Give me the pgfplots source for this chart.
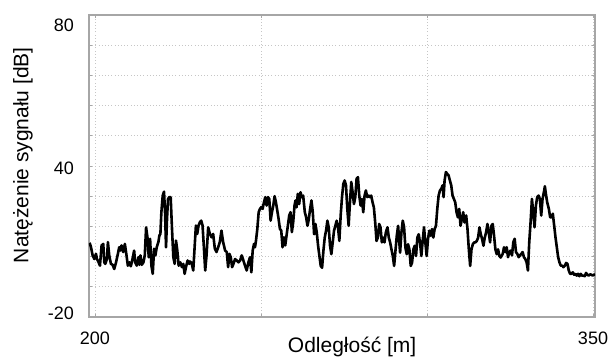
\documentclass[border=0pt]{standalone}
\usepackage{pgfplots}
\pgfplotsset{compat=1.18}
\usepackage{fontspec}
\setmainfont{Liberation Sans}

\begin{document}
\begin{tikzpicture}
\useasboundingbox (-44.5pt,-20.5pt) rectangle (260.5pt,158.5pt);
\begin{axis}[
  at={(0,0)}, anchor=south west,
  scale only axis, width=253pt, height=151pt,
  xmin=198.2, xmax=350.6, ymin=-20, ymax=80,
  axis line style={draw=gray!70, line width=0.6pt},
  xtick={200,250,300,350}, xticklabels={200,,,350},
  ytick={-10,0,...,70}, yticklabels={},
  extra y ticks={76.7,29.3,-18.7}, extra y tick labels={80,40,-20},
  extra y tick style={major tick length=0pt, grid=none},
  grid=major,
  major grid style={gray!45, line width=0.4pt, dash pattern=on 0.4pt off 1.2pt},
  tick style={gray!70, line width=0.4pt},
  major tick length=1.5pt,
  tick align=inside,
  ticklabel style={font=\fontsize{9}{10}\selectfont, text=black},
  yticklabel style={xshift=-4pt},
  xticklabel style={yshift=-4pt},
  /pgf/number format/assume math mode=true,
  xlabel={Odległość [m]}, ylabel={Natężenie sygnału [dB]},
  label style={font=\fontsize{10.5}{12}\selectfont},
  xlabel style={at={(axis description cs:0.52,-0.0993)}, anchor=center},
  ylabel style={at={(axis description cs:-0.1304,0.536)}, anchor=center},
]
\addplot[black, line width=1.3pt, line join=round, mark=none] coordinates {
(198.3,4.5) (198.5,4.2) (198.8,3.1) (199.3,0.4) (199.8,-0.8) (200.3,0.9) (200.6,-0.8) (201.1,-1.9) (201.5,-3.0)
(202.0,3.7) (202.5,4.2) (202.8,-1.9) (203.1,-2.4) (203.6,-0.8) (203.9,4.8) (204.3,0.4) (204.8,-2.4)
(205.3,-2.7) (205.8,-4.1) (206.3,-2.1) (206.8,0.4) (207.3,3.1) (207.6,2.0) (208.0,3.7) (208.5,1.5)
(209.0,4.2) (209.5,0.4) (209.9,-3.0) (210.4,-1.9) (210.8,-3.2) (211.3,-0.8) (211.8,2.0) (212.1,-1.9)
(212.6,-3.0) (213.1,-0.2) (213.4,-2.7) (213.7,0.4) (214.1,-2.7) (214.6,-1.9) (215.0,0.4) (215.4,9.7)
(215.8,6.4) (216.2,-0.2) (216.6,5.9) (217.0,-3.0) (217.4,-5.7) (217.8,2.6) (218.2,0.4) (218.6,3.1)
(219.1,4.8) (219.4,7.0) (219.7,7.5) (220.0,14.7) (220.4,20.2) (220.8,21.5) (221.1,14.7) (221.4,3.1)
(221.7,12.5) (222.0,19.1) (222.4,19.7) (222.8,19.7) (223.2,9.2) (223.6,-0.2) (224.0,-2.4) (224.4,5.3)
(224.8,2.0) (225.2,-3.0) (225.7,-1.9) (226.2,-3.5) (226.6,-2.4) (227.0,-5.7) (227.4,-3.5) (227.9,-1.3)
(228.4,-2.4)
(228.6,-1.6) (229.1,-2.1) (229.6,-4.6) (230.1,4.8) (230.4,10.3) (230.8,7.5) (231.2,10.3) (231.6,11.4)
(232.0,11.9) (232.4,10.3) (232.8,3.1) (233.2,-4.6) (233.6,0.4) (234.1,9.7) (234.6,7.5) (235.1,6.4)
(235.6,7.5) (236.1,2.6) (236.6,1.5) (237.1,3.1) (237.6,4.8) (238.1,8.6) (238.6,4.8) (239.2,2.0)
(239.7,1.5) (240.1,-3.5) (240.5,0.9) (240.9,-0.2) (241.3,-3.5) (241.7,-2.4) (242.2,-0.8) (242.7,-1.3)
(243.2,-1.9) (243.7,-1.3) (244.2,0.4) (244.7,-1.3) (245.2,-3.0) (245.7,-4.6) (246.2,-1.9) (246.7,-0.2)
(247.1,-5.2) (247.5,2.0) (247.9,4.2) (248.2,3.1) (248.5,5.3) (248.9,9.2) (249.3,14.7) (249.7,15.8)
(250.1,16.4) (250.5,15.8) (250.9,18.0) (251.3,19.7) (251.7,16.9) (252.1,19.7) (252.5,19.1) (252.9,11.9)
(253.3,14.7) (253.7,16.9) (254.1,20.0) (254.5,18.0) (254.9,15.3) (255.3,12.5) (255.7,9.2) (256.1,8.6)
(256.5,3.1) (256.9,6.4) (257.3,3.7) (257.7,7.0) (258.1,10.3) (258.5,13.6) (258.9,14.7) (259.3,8.1)
(259.7,11.4) (260.1,16.9)
(260.4,18.6) (260.7,16.3) (261.1,20.8) (261.5,17.4) (261.9,21.3) (262.3,19.7) (262.7,20.2) (263.2,14.7)
(263.6,13.0) (264.0,10.2) (264.4,12.4) (264.8,15.8) (265.2,18.6) (265.6,14.7) (266.0,7.4) (266.4,10.8)
(266.8,8.0) (267.2,3.6) (267.6,0.2) (268.0,-3.1) (268.4,-3.7) (268.8,1.9) (269.2,6.3) (269.6,8.6)
(270.0,11.9) (270.4,9.7) (270.8,3.6) (271.2,0.8) (271.6,4.7) (272.0,8.6) (272.4,10.2) (272.8,11.9)
(273.2,9.7) (273.6,5.2) (274.0,13.6) (274.4,19.7) (274.8,24.1) (275.2,25.2) (275.6,23.6) (276.0,15.8)
(276.4,10.2) (276.8,18.0) (277.2,24.7) (277.6,21.3) (278.0,17.4) (278.4,19.7) (278.8,25.8) (279.2,26.3)
(279.6,20.2) (280.0,16.9) (280.4,19.1) (280.8,14.7) (281.2,20.2) (281.6,21.9) (282.0,19.7) (282.4,20.2)
(282.8,19.7) (283.2,20.2) (283.6,18.0) (284.0,16.3) (284.4,11.3) (284.8,5.2) (285.2,6.3) (285.6,10.8)
(286.0,9.7) (286.4,4.7) (286.8,6.3) (287.2,4.7) (287.6,8.0) (288.1,9.7) (288.5,6.3) (288.9,4.7)
(289.3,2.4) (289.7,0.2) (290.1,-3.1) (290.5,1.9) (290.9,6.9) (291.3,10.2) (291.7,4.1) (291.9,1.3)
(292.3,8.0) (292.7,11.9) (293.1,9.7) (293.5,3.0) (293.9,0.8) (294.3,4.1) (294.7,2.4) (295.1,-3.1)
(295.5,-2.0) (295.9,2.4) (296.3,3.6) (296.7,0.2) (297.1,6.3) (297.5,7.4) (297.9,4.7) (298.3,0.2)
(298.7,5.2) (299.1,9.7) (299.5,4.7) (299.9,0.2) (300.3,5.8) (300.7,8.6) (301.1,6.9) (301.5,9.1)
(301.9,6.3) (302.3,9.1) (302.7,10.2) (303.1,15.8) (303.5,20.2) (303.9,21.9) (304.3,22.4) (304.7,23.6)
(305.0,19.7) (305.3,25.2) (305.7,28.0) (306.1,27.4) (306.5,26.9) (306.9,25.2) (307.3,23.6) (307.7,20.2)
(308.1,19.1) (308.5,18.0) (308.9,14.7) (309.3,13.0) (309.7,15.8) (310.1,10.2) (310.5,12.4) (310.9,14.7)
(311.3,11.3) (311.8,13.6) (312.2,9.1) (312.6,2.4) (313.0,-3.1) (313.4,2.4) (313.8,4.1) (314.2,4.7)
(314.6,4.7) (315.0,5.2) (315.4,6.3) (315.8,9.7) (316.2,7.4) (316.6,5.8) (317.0,3.6) (317.4,6.3)
(317.8,8.0) (318.2,10.8) (318.6,8.0) (319.0,4.7) (319.4,10.2) (319.8,10.8) (320.2,6.9) (320.6,2.4)
(321.0,0.8) (321.4,2.4) (321.8,0.2) (322.2,-0.3)
(322.8,0.9) (323.2,3.1) (323.6,1.5) (324.0,3.1) (324.4,-0.2) (324.8,1.5) (325.2,2.0) (325.6,0.4)
(326.0,4.8) (326.4,5.9) (326.8,1.5) (327.2,0.9) (327.6,-0.2) (328.0,0.4) (328.4,0.9) (328.8,1.5)
(329.2,-0.2) (329.6,-0.8) (330.0,-1.9) (330.4,-4.6) (330.8,4.8) (331.2,11.4) (331.6,19.1) (332.0,14.7)
(332.4,9.7) (332.8,16.9) (333.2,19.7) (333.6,20.2) (334.0,19.1) (334.4,13.6) (334.8,19.1) (335.2,21.3)
(335.5,23.3) (335.8,20.8) (336.2,18.0) (336.7,15.8) (337.1,13.0) (337.5,13.0) (337.9,14.2) (338.3,10.3)
(338.7,6.4) (339.1,3.1) (339.5,-0.2) (339.9,-1.9) (340.3,-3.0) (340.7,-3.0) (341.1,-3.5) (341.5,-3.0)
(341.9,-2.1) (342.3,-2.4) (342.7,-4.6) (343.1,-5.7) (343.5,-5.7) (343.9,-5.2) (344.3,-6.0) (344.7,-5.7)
(345.1,-6.3) (345.5,-5.7) (345.9,-6.5) (346.3,-5.7) (346.7,-6.3) (347.1,-6.3) (347.5,-6.5) (347.9,-5.4)
(348.3,-6.0) (348.7,-6.3) (349.1,-5.9) (349.5,-6.0) (349.9,-6.3) (350.3,-6.0) (350.6,-5.8)
};
\end{axis}
\end{tikzpicture}
\end{document}
